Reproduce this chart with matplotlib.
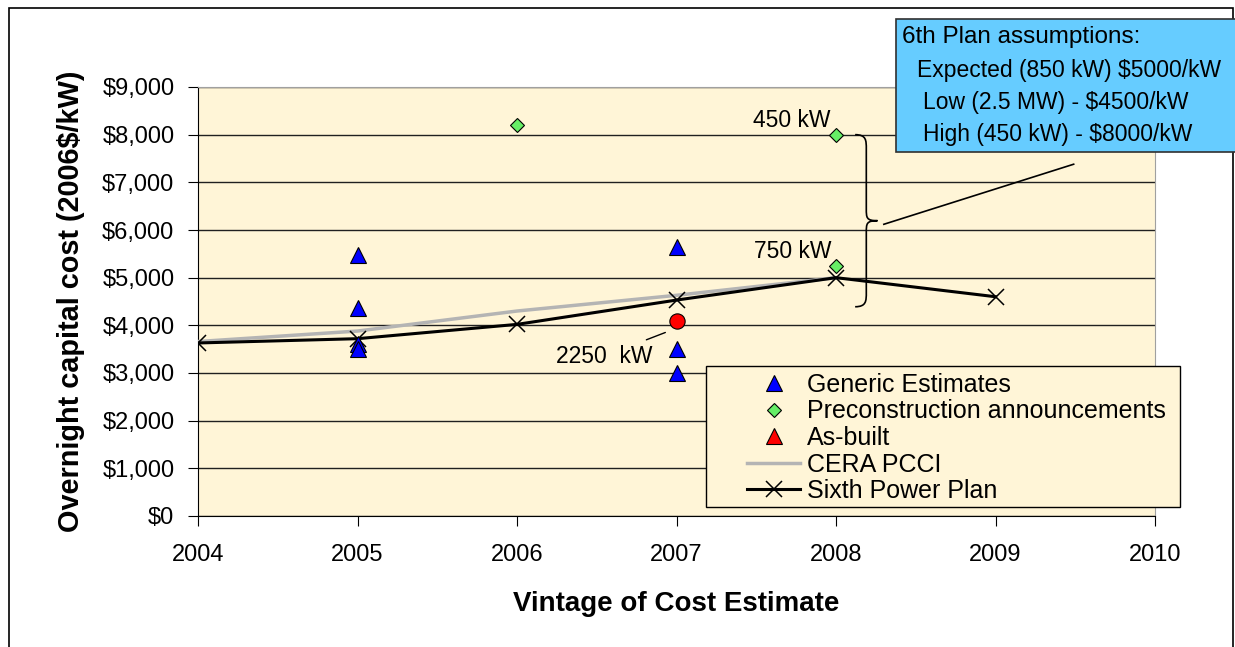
import matplotlib
matplotlib.use("Agg")
import matplotlib.pyplot as plt
import matplotlib.ticker as ticker
from matplotlib.lines import Line2D
from matplotlib.path import Path
from matplotlib.patches import PathPatch, Rectangle

plt.rcParams['font.family'] = ['Liberation Sans', 'DejaVu Sans']

# Cost estimates by vintage year (2006$/kW)
generic_years = [2005, 2005, 2005, 2005, 2007, 2007, 2007]
generic_costs = [5480, 4360, 3600, 3510, 5650, 3500, 3000]

precon_years = [2006, 2008, 2008]
precon_costs = [8200, 8000, 5250]

asbuilt_years = [2007]
asbuilt_costs = [4100]

cera_years = [2004, 2005, 2006, 2007, 2008]
cera_costs = [3660, 3880, 4300, 4630, 5000]

plan_years = [2004, 2005, 2006, 2007, 2008, 2009]
plan_costs = [3630, 3720, 4020, 4530, 5000, 4600]

plan_box_title = "6th Plan assumptions:"
plan_box_lines = [
    "Expected (850 kW) $5000/kW",
    "Low (2.5 MW) - $4500/kW",
    "High (450 kW) - $8000/kW",
]

BG = "#FFF5D7"
FS = 16.5
W, H = 1235, 647

fig = plt.figure(figsize=(12.35, 6.47), dpi=100)
ax = fig.add_axes([198 / W, 1 - 516 / H, 957 / W, 429 / H])
ax.set_facecolor(BG)

# outer frame
fig.patches.append(Rectangle((9 / W, -0.01), 1224 / W, 1.01 - 8 / H,
                             transform=fig.transFigure, fill=False,
                             edgecolor='black', linewidth=1.2, zorder=0))

ax.set_xlim(2004, 2010)
ax.set_ylim(0, 9000)
ax.yaxis.set_major_locator(ticker.MultipleLocator(1000))
ax.xaxis.set_major_locator(ticker.MultipleLocator(1))
ax.yaxis.set_major_formatter(ticker.FuncFormatter(lambda v, p: f'${int(v):,}'))
ax.grid(axis='y', color='#202020', linewidth=1.0)
ax.set_axisbelow(True)
for s in ['top', 'right']:
    ax.spines[s].set_color('#A0A0A0')
for s in ['left', 'bottom']:
    ax.spines[s].set_color('black')
ax.tick_params(labelsize=17, length=7, direction='out', pad=10)
ax.tick_params(axis='x', pad=13)

ax.plot(cera_years, cera_costs, color='#B4B4B4', linewidth=2.5, zorder=3,
        label='CERA PCCI')
ax.plot(plan_years, plan_costs, color='black', linewidth=2.2, marker='x',
        markersize=12, markeredgewidth=1.1, zorder=4, label='Sixth Power Plan')
ax.plot(generic_years, generic_costs, linestyle='none', marker='^',
        markersize=11, color='#0000FF', markeredgecolor='black',
        markeredgewidth=0.8, zorder=5, label='Generic Estimates')
ax.plot(precon_years, precon_costs, linestyle='none', marker='D',
        markersize=7.5, color='#66EE66', markeredgecolor='black',
        markeredgewidth=0.8, zorder=5, label='Preconstruction announcements')
ax.plot(asbuilt_years, asbuilt_costs, linestyle='none', marker='o',
        markersize=11, color='#FF0000', markeredgecolor='black',
        markeredgewidth=0.8, zorder=5)

# size labels
ax.annotate("450 kW", xy=(precon_years[1], precon_costs[1]), xytext=(-4, 2),
            textcoords='offset points', ha='right', va='bottom', fontsize=FS)
ax.annotate("750 kW", xy=(precon_years[2], precon_costs[2]), xytext=(-3, 2),
            textcoords='offset points', ha='right', va='bottom', fontsize=FS)
ax.annotate("2250  kW", xy=(asbuilt_years[0] - 0.07, asbuilt_costs[0] - 250),
            xytext=(-44, -17), textcoords='offset points', ha='center',
            va='center', fontsize=FS,
            arrowprops=dict(arrowstyle='-', color='black', linewidth=1,
                            shrinkA=4, shrinkB=0))

# curly brace spanning the 6th plan range
top, bot = 8000, 4390
mid = (top + bot) / 2
x0, x1, x2 = 2008.12, 2008.19, 2008.26
verts = [(x0, top), (x1, top), (x1, top - 120), (x1, top - 300),
         (x1, mid + 250),
         (x1, mid + 60), (x1, mid), (x2, mid),
         (x1, mid), (x1, mid - 60), (x1, mid - 250),
         (x1, bot + 300),
         (x1, bot + 120), (x1, bot), (x0, bot)]
codes = [Path.MOVETO, Path.CURVE4, Path.CURVE4, Path.CURVE4,
         Path.LINETO,
         Path.CURVE4, Path.CURVE4, Path.CURVE4,
         Path.CURVE4, Path.CURVE4, Path.CURVE4,
         Path.LINETO,
         Path.CURVE4, Path.CURVE4, Path.CURVE4]
ax.add_patch(PathPatch(Path(verts, codes), fill=False, edgecolor='black',
                       linewidth=1.2, zorder=6, clip_on=False))
ax.plot([2008.30, 2009.49], [6120, 7380], color='black', linewidth=1.2,
        zorder=6)

# assumptions box
fig.patches.append(Rectangle((896 / W, 1 - 152 / H), 345 / W, 133 / H,
                             transform=fig.transFigure, facecolor='#66CCFF',
                             edgecolor='#303030', linewidth=1.2, zorder=10))
fig.text(902 / W, 1 - 37 / H, plan_box_title, fontsize=17.5,
         va='center', ha='left', zorder=11)
for i, (line, left) in enumerate(zip(plan_box_lines, [917, 923, 923])):
    fig.text(left / W, 1 - (71 + 31.5 * i) / H, line, fontsize=FS,
             va='center', ha='left', zorder=11)

# legend: frame drawn separately so handles can sit inset from its left edge
ax.add_patch(Rectangle(((706 - 198) / 957, (516 - 507) / 429),
                       474 / 957, 141 / 429, transform=ax.transAxes,
                       facecolor=BG, edgecolor='black', linewidth=1.0,
                       zorder=7, clip_on=False))
handles = [
    Line2D([], [], linestyle='none', marker='^', markersize=11, color='#0000FF',
           markeredgecolor='black', markeredgewidth=0.8),
    Line2D([], [], linestyle='none', marker='D', markersize=7.5, color='#66EE66',
           markeredgecolor='black', markeredgewidth=0.8),
    Line2D([], [], linestyle='none', marker='^', markersize=11, color='#FF0000',
           markeredgecolor='black', markeredgewidth=0.8),
    Line2D([], [], color='#B4B4B4', linewidth=2.5),
    Line2D([], [], color='black', linewidth=2.2, marker='x', markersize=12,
           markeredgewidth=1.1),
]
labels = ['Generic Estimates', 'Preconstruction announcements', 'As-built',
          'CERA PCCI', 'Sixth Power Plan']
leg = ax.legend(handles, labels, loc='upper left',
                bbox_to_anchor=((747 - 198) / 957, (516 - 373) / 429),
                fontsize=18, frameon=False, handlelength=2.12,
                handletextpad=0.28, labelspacing=0.1, borderaxespad=0,
                borderpad=0)
leg.set_zorder(8)

ax.set_xlabel("Vintage of Cost Estimate", fontsize=20, fontweight='bold',
              labelpad=18)
ax.set_ylabel("Overnight capital cost (2006$/kW)", fontsize=20.8,
              fontweight='bold', labelpad=12)

fig.savefig("out.png", dpi=100)
